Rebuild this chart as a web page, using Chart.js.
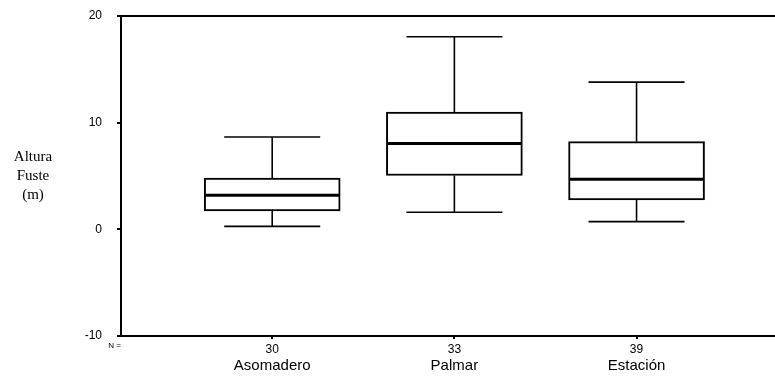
<!DOCTYPE html>
<html lang="es">
<head>
<meta charset="UTF-8">
<title>Altura Fuste</title>
<script src="https://cdn.jsdelivr.net/npm/chart.js@4.4.0/dist/chart.umd.min.js"></script>
<style>
  html, body { margin: 0; padding: 0; background: #fff; }
  #wrap { width: 775px; height: 379px; position: relative; }
</style>
</head>
<body>
<div id="wrap"><canvas id="chart"></canvas></div>
<script>
// box plot values
const groups = ['Asomadero', 'Palmar', 'Estación'];
const counts = [30, 33, 39];
const positions = [1, 2, 3];
const whiskerLow = [0.28, 1.6, 0.72];
const quart1 = [1.72, 5.05, 2.75];
const medians = [3.2, 8.05, 4.69];
const quart3 = [4.81, 11.0, 8.22];
const whiskerHigh = [8.65, 18.05, 13.8];
const yTicks = [-10, 0, 10, 20];

const sans = '"Liberation Sans", Arial, sans-serif';
const serif = '"Liberation Serif", "Times New Roman", serif';

// whiskers + median drawn on top of the floating bars
const boxWhiskers = {
  id: 'boxWhiskers',
  afterDatasetsDraw(chart) {
    const ctx = chart.ctx;
    const y = chart.scales.y;
    const meta = chart.getDatasetMeta(0);
    const line = (x1, y1, x2, y2) => {
      ctx.beginPath(); ctx.moveTo(x1, y1); ctx.lineTo(x2, y2); ctx.stroke();
    };
    ctx.save();
    ctx.strokeStyle = '#000';
    meta.data.forEach((bar, i) => {
      const cx = bar.x;
      const half = bar.width / 2;
      const cap = bar.width * 0.353;
      const pLow = y.getPixelForValue(whiskerLow[i]);
      const pQ1 = y.getPixelForValue(quart1[i]);
      const pMed = y.getPixelForValue(medians[i]);
      const pQ3 = y.getPixelForValue(quart3[i]);
      const pHigh = y.getPixelForValue(whiskerHigh[i]);
      ctx.lineWidth = 1.6;
      line(cx, pQ3, cx, pHigh);
      line(cx - cap, pHigh, cx + cap, pHigh);
      line(cx, pQ1, cx, pLow);
      line(cx - cap, pLow, cx + cap, pLow);
      ctx.lineWidth = 3;
      line(cx - half + 1, pMed, cx + half - 1, pMed);
    });
    ctx.restore();
  },
  afterDraw(chart) {
    const ctx = chart.ctx;
    const area = chart.chartArea;
    ctx.save();
    // top frame line
    ctx.strokeStyle = '#000';
    ctx.lineWidth = 2;
    ctx.beginPath();
    ctx.moveTo(area.left - 1, area.top);
    ctx.lineTo(chart.width, area.top);
    ctx.stroke();
    // y axis title, horizontal, three lines
    ctx.fillStyle = '#000';
    ctx.font = '15px ' + serif;
    ctx.textAlign = 'center';
    ctx.textBaseline = 'middle';
    const mid = (area.top + area.bottom) / 2;
    ['Altura', 'Fuste', '(m)'].forEach((t, k) => {
      ctx.fillText(t, 33, mid - 19 + k * 19 + 0.5);
    });
    // "N =" marker
    ctx.font = '8px ' + sans;
    ctx.textAlign = 'right';
    ctx.fillText('N =', area.left, area.bottom + 10);
    ctx.restore();
  }
};

const catTicks = scale => { scale.ticks = positions.map(v => ({ value: v })); };

new Chart(document.getElementById('chart'), {
  type: 'bar',
  data: {
    datasets: [{
      data: positions.map((p, i) => ({ x: p, y: [quart1[i], quart3[i]] })),
      backgroundColor: '#fff',
      borderColor: '#000',
      borderWidth: 2,
      borderSkipped: false,
      barThickness: 136,
      xAxisID: 'x',
      yAxisID: 'y'
    }]
  },
  options: {
    responsive: true,
    maintainAspectRatio: false,
    animation: false,
    events: [],
    layout: { padding: { top: 16, right: 0, bottom: 0, left: 0 } },
    plugins: { legend: { display: false }, tooltip: { enabled: false } },
    scales: {
      x: {
        type: 'linear',
        position: 'bottom',
        weight: 0,
        offset: false,
        min: 0.17,
        max: 3.76,
        afterBuildTicks: catTicks,
        afterFit: s => { s.height = 20; s.paddingLeft = 0; s.paddingRight = 0; },
        border: { display: true, color: '#000', width: 2 },
        grid: { offset: false, drawOnChartArea: false, color: '#000', tickLength: 3, tickWidth: 2, lineWidth: 2 },
        ticks: {
          autoSkip: false, maxRotation: 0, padding: 3,
          color: '#000', font: { family: sans, size: 12 },
          callback: v => counts[positions.indexOf(v)]
        }
      },
      x2: {
        type: 'linear',
        position: 'bottom',
        weight: 1,
        offset: false,
        min: 0.17,
        max: 3.76,
        afterBuildTicks: catTicks,
        afterFit: s => { s.height = 23; s.paddingLeft = 0; s.paddingRight = 0; },
        border: { display: false },
        grid: { display: false, drawTicks: false, tickLength: 0 },
        ticks: {
          autoSkip: false, maxRotation: 0, padding: 1,
          color: '#000', font: { family: sans, size: 15 },
          callback: v => groups[positions.indexOf(v)]
        }
      },
      y: {
        min: -10,
        max: 20,
        afterBuildTicks: s => { s.ticks = yTicks.map(v => ({ value: v })); },
        afterFit: s => { s.width = 121; s.paddingTop = 0; s.paddingBottom = 0; },
        border: { display: true, color: '#000', width: 2 },
        grid: { drawOnChartArea: false, color: '#000', tickLength: 4, tickWidth: 2, lineWidth: 2 },
        ticks: { padding: 15, color: '#000', font: { family: sans, size: 12 } }
      }
    }
  },
  plugins: [boxWhiskers]
});
</script>
</body>
</html>
